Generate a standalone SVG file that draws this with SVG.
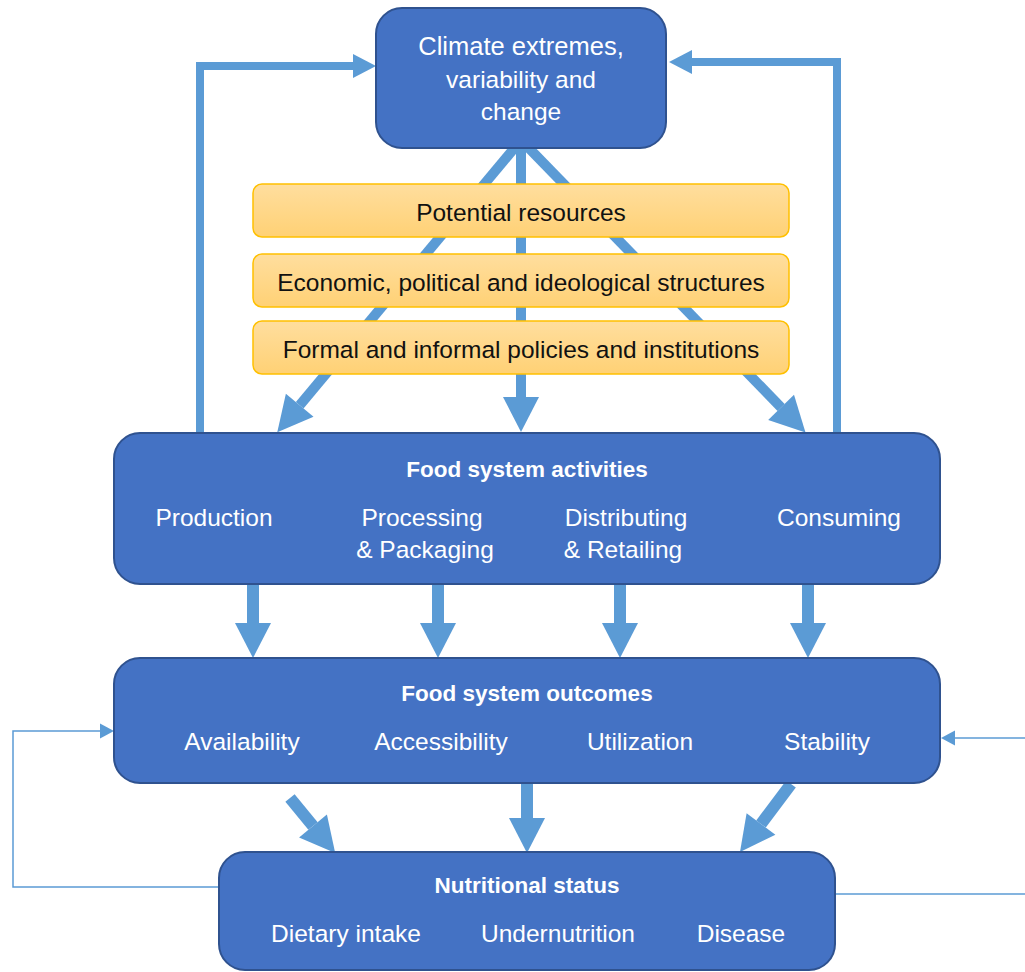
<svg xmlns="http://www.w3.org/2000/svg" width="1025" height="972" viewBox="0 0 1025 972">
  <defs>
    <linearGradient id="og" x1="0" y1="0" x2="0" y2="1">
      <stop offset="0" stop-color="#FFDE9E"/>
      <stop offset="1" stop-color="#FFD175"/>
    </linearGradient>
    <marker id="big" markerUnits="userSpaceOnUse" viewBox="0 -20 40 40" markerWidth="40" markerHeight="40" refX="0" refY="0" orient="auto" overflow="visible">
      <path d="M0,-18 L35,0 L0,18 Z" fill="#5B9BD5"/>
    </marker>
    <marker id="med" markerUnits="userSpaceOnUse" viewBox="0 -20 40 40" markerWidth="40" markerHeight="40" refX="0" refY="0" orient="auto" overflow="visible">
      <path d="M0,-12 L23,0 L0,12 Z" fill="#5B9BD5"/>
    </marker>
    <marker id="sm" markerUnits="userSpaceOnUse" viewBox="0 -20 40 40" markerWidth="40" markerHeight="40" refX="0" refY="0" orient="auto" overflow="visible">
      <path d="M0,-7.5 L14,0 L0,7.5 Z" fill="#5B9BD5"/>
    </marker>
  </defs>
  <style>
    .box { fill: #4472C4; stroke: #2F528F; stroke-width: 2; }
    .obox { fill: url(#og); stroke: #FFC000; stroke-width: 1.5; }
    .t { font-family: "Liberation Sans", Arial, sans-serif; font-size: 24.5px; fill: #FFFFFF; text-anchor: middle; }
    .tb { font-family: "Liberation Sans", Arial, sans-serif; font-size: 22.5px; font-weight: bold; fill: #FFFFFF; text-anchor: middle; }
    .to { font-family: "Liberation Sans", Arial, sans-serif; font-size: 24.5px; fill: #111111; text-anchor: middle; }
    .thick { stroke: #5B9BD5; stroke-width: 10; fill: none; }
    .thick12 { stroke: #5B9BD5; stroke-width: 12; fill: none; }
    .fb { stroke: #5B9BD5; stroke-width: 8; fill: none; }
    .thin { stroke: #5B9BD5; stroke-width: 1.5; fill: none; }
  </style>

  <g id="connectors">
    <path class="fb" d="M200,437 V66 H353" marker-end="url(#med)"/>
    <path class="fb" d="M837,437 V62 H692" marker-end="url(#med)"/>
    <line class="thick" x1="521" y1="140" x2="299.7" y2="405.3" marker-end="url(#big)"/>
    <line class="thick" x1="521" y1="140" x2="521" y2="397" marker-end="url(#big)"/>
    <line class="thick" x1="521" y1="140" x2="781.1" y2="407.4" marker-end="url(#big)"/>
    <line class="thick12" x1="253" y1="584" x2="253" y2="623" marker-end="url(#big)"/>
    <line class="thick12" x1="438" y1="584" x2="438" y2="623" marker-end="url(#big)"/>
    <line class="thick12" x1="620" y1="584" x2="620" y2="623" marker-end="url(#big)"/>
    <line class="thick12" x1="808" y1="584" x2="808" y2="623" marker-end="url(#big)"/>
    <line class="thick12" x1="290" y1="798" x2="313" y2="826" marker-end="url(#big)"/>
    <line class="thick12" x1="527" y1="784" x2="527" y2="818" marker-end="url(#big)"/>
    <line class="thick12" x1="791" y1="784" x2="761" y2="824" marker-end="url(#big)"/>
    <path class="thin" d="M219,887 H13 V731 H100" marker-end="url(#sm)"/>
    <path class="thin" d="M835,894 H1025"/>
    <path class="thin" d="M1025,738 H955" marker-end="url(#sm)"/>
  </g>

  <g id="climate">
    <rect class="box" x="376" y="8" width="290" height="140" rx="26"/>
    <text class="t" x="521" y="55" style="font-size:25.5px">Climate extremes,</text>
    <text class="t" x="521" y="88">variability and</text>
    <text class="t" x="521" y="120">change</text>
  </g>

  <g id="potential-resources">
    <rect class="obox" x="253" y="184" width="536" height="53" rx="9"/>
    <text class="to" x="521" y="221">Potential resources</text>
  </g>
  <g id="structures">
    <rect class="obox" x="253" y="254" width="536" height="53" rx="9"/>
    <text class="to" x="521" y="291">Economic, political and ideological structures</text>
  </g>
  <g id="policies">
    <rect class="obox" x="253" y="321" width="536" height="53" rx="9"/>
    <text class="to" x="521" y="358">Formal and informal policies and institutions</text>
  </g>

  <g id="activities">
    <rect class="box" x="114" y="433" width="826" height="151" rx="26"/>
    <text class="tb" x="527" y="477">Food system activities</text>
    <text class="t" x="214" y="526">Production</text>
    <text class="t" x="422" y="526">Processing</text>
    <text class="t" x="425" y="558">&amp; Packaging</text>
    <text class="t" x="626" y="526">Distributing</text>
    <text class="t" x="623" y="558">&amp; Retailing</text>
    <text class="t" x="839" y="526">Consuming</text>
  </g>

  <g id="outcomes">
    <rect class="box" x="114" y="658" width="826" height="125" rx="26"/>
    <text class="tb" x="527" y="701">Food system outcomes</text>
    <text class="t" x="242" y="750">Availability</text>
    <text class="t" x="441" y="750">Accessibility</text>
    <text class="t" x="640" y="750">Utilization</text>
    <text class="t" x="827" y="750">Stability</text>
  </g>

  <g id="nutritional">
    <rect class="box" x="219" y="852" width="616" height="118" rx="26"/>
    <text class="tb" x="527" y="893">Nutritional status</text>
    <text class="t" x="346" y="942">Dietary intake</text>
    <text class="t" x="558" y="942">Undernutrition</text>
    <text class="t" x="741" y="942">Disease</text>
  </g>
</svg>
